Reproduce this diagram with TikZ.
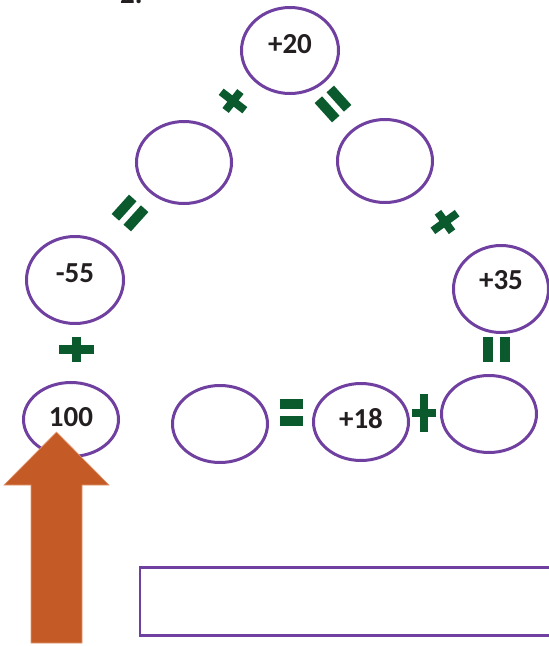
\documentclass[tikz,border=0pt]{standalone}
\usepackage{fontspec}
\setmainfont{Carlito}
\usetikzlibrary{shapes.geometric}

\definecolor{ringpurple}{RGB}{112,64,160}
\definecolor{opgreen}{RGB}{10,90,46}
\definecolor{arroworange}{RGB}{196,91,39}
\definecolor{arrowedge}{RGB}{226,150,110}
\definecolor{numblack}{RGB}{35,31,32}

\tikzset{
    bubble/.style={ellipse, draw=ringpurple, line width=3pt, inner sep=0pt,
        minimum width=95pt, minimum height=77pt},
    num/.style={font=\fontsize{29}{32}\selectfont\bfseries, text=numblack, inner sep=0pt},
    answerbox/.style={rectangle, draw=ringpurple, line width=2.7pt, inner sep=0pt,
        minimum width=440pt, minimum height=68pt},
    pics/plussign/.style n args={3}{code={
        \fill (-#1/2,-#3/2) rectangle (#1/2,#3/2);
        \fill (-#3/2,-#2/2) rectangle (#3/2,#2/2);
    }},
    pics/eqsign/.style n args={3}{code={
        \fill (-#1/2,#3/2) rectangle (#1/2,#3/2+#2);
        \fill (-#1/2,-#3/2) rectangle (#1/2,-#3/2-#2);
    }},
}

\begin{document}
\begin{tikzpicture}[x=1pt, y=-1pt]
    \useasboundingbox (0,0) rectangle (549,646);
    \clip (0,0) rectangle (549,646);

    \node[num, anchor=base west] (qnum) at (120,3.5) {2.};

    % the ring of bubbles
    \node[bubble, minimum width=97pt, minimum height=86pt] (top) at (290,50.5) {};
    \node[bubble, minimum height=82pt] (upleft) at (184,162.5) {};
    \node[bubble, minimum height=83pt] (upright) at (385,161) {};
    \node[bubble, minimum width=97pt, minimum height=87pt] (midleft) at (75,280) {};
    \node[bubble, minimum height=87pt] (midright) at (501,289) {};
    \node[bubble, minimum height=74pt] (start) at (71,419.5) {};
    \node[bubble] (lowa) at (220,424) {};
    \node[bubble] (lowb) at (361,422) {};
    \node[bubble] (lowc) at (489,414) {};

    \node[num] (ttop) at (290,44) {+20};
    \node[num] (tmidleft) at (75,273) {-55};
    \node[num] (tmidright) at (501,280) {+35};
    \node[num] (tstart) at (71,417) {100};
    \node[num] (tlowb) at (361,419) {+18};

    % operators between the bubbles
    \pic[opgreen, rotate=-38] (optl) at (233,101) {plussign={30}{24}{8}};
    \pic[opgreen, rotate=-48] (optr) at (333,104) {eqsign={26}{10}{6}};
    \pic[opgreen, rotate=48] (opl) at (130,213) {eqsign={26}{10}{6}};
    \pic[opgreen, rotate=36] (opr) at (445,222) {plussign={30}{24}{8}};
    \pic[opgreen] (opml) at (76,349) {plussign={35}{25}{9}};
    \pic[opgreen, rotate=90] (opmr) at (496,349) {eqsign={25}{10}{7}};
    \pic[opgreen] (opbl) at (291,412) {eqsign={23}{10}{7}};
    \pic[opgreen] (opbr) at (424,413) {plussign={24}{38}{8}};

    \fill[arroworange, draw=arrowedge, line width=0.6pt]
        (31,643) -- (31,485) -- (4,485) -- (56.5,432) -- (109,485)
        -- (82,485) -- (82,643) -- cycle;

    \node[answerbox, anchor=north west] (answer) at (138.5,566) {};
\end{tikzpicture}
\end{document}
